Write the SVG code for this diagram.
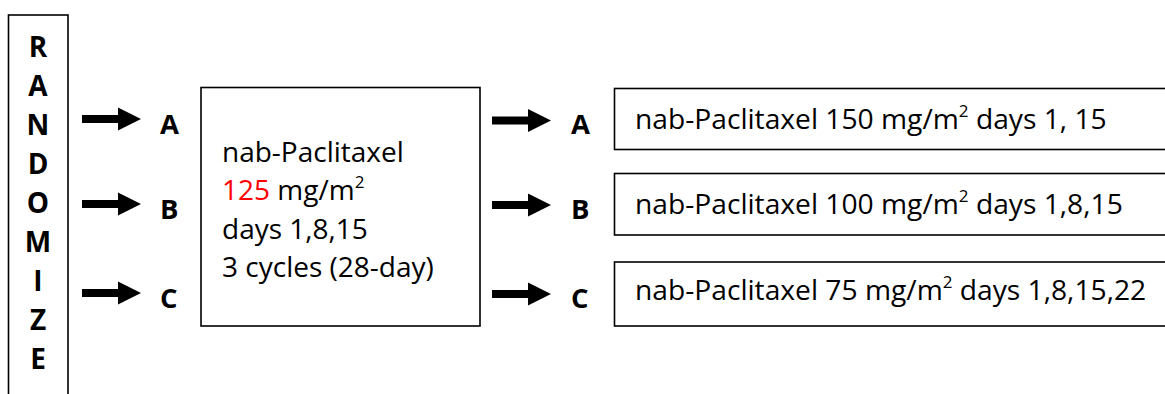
<svg xmlns="http://www.w3.org/2000/svg" width="1165" height="394" viewBox="0 0 1165 394">
  <defs>
    <style>
      .box { fill: #ffffff; stroke: #000000; stroke-width: 1.6; }
      .txt { font-family: "Open Sans", "Liberation Sans", sans-serif; font-size: 28px; fill: #000000; }
      .arm { font-family: "Open Sans", "Liberation Sans", sans-serif; font-size: 28.2px; fill: #000000; }
      .lbl { font-family: "Open Sans", "Liberation Sans", sans-serif; font-size: 27.5px; font-weight: bold; fill: #000000; }
      .vert { font-family: "Open Sans", "Liberation Sans", sans-serif; font-size: 28px; font-weight: bold; fill: #000000; text-anchor: middle; }
      .red { fill: #ff0000; }
      .sup { font-size: 17px; }
      .arrow { fill: #000000; }
    </style>
    <!-- block arrow: shaft then triangular head, tip at (0,0) -->
    <path id="blockArrow" class="arrow" d="M -59 -4 L -23 -4 L -23 -11.5 L 0 0 L -23 11.5 L -23 4 L -59 4 Z"/>
  </defs>

  <rect width="1165" height="394" fill="#ffffff"/>

  <!-- vertical RANDOMIZE column -->
  <g id="randomize">
    <rect class="box" x="8.5" y="15" width="59.5" height="400"/>
    <text class="vert" x="38" y="57">R</text>
    <text class="vert" x="38" y="96">A</text>
    <text class="vert" x="38" y="135">N</text>
    <text class="vert" x="38" y="174">D</text>
    <text class="vert" x="38" y="213">O</text>
    <text class="vert" x="38" y="252">M</text>
    <text class="vert" x="38" y="291">I</text>
    <text class="vert" x="38" y="330">Z</text>
    <text class="vert" x="38" y="369">E</text>
  </g>

  <!-- arm labels entering the induction phase -->
  <g id="arms-in">
    <text class="lbl" x="160" y="134">A</text>
    <text class="lbl" x="160" y="219">B</text>
    <text class="lbl" x="160" y="308">C</text>
  </g>

  <!-- induction box -->
  <g id="induction">
    <rect class="box" x="201" y="87.5" width="279" height="238.5"/>
    <text class="txt" x="222" y="162">nab-Paclitaxel</text>
    <text class="txt" x="222" y="200"><tspan class="red">125</tspan> mg/m<tspan class="sup" dy="-12">2</tspan></text>
    <text class="txt" x="222" y="239">days 1,8,15</text>
    <text class="txt" x="222" y="277">3 cycles (28-day)</text>
  </g>

  <!-- arm labels for the maintenance phase -->
  <g id="arms-out">
    <text class="lbl" x="571" y="134">A</text>
    <text class="lbl" x="571" y="219">B</text>
    <text class="lbl" x="571" y="308">C</text>
  </g>

  <!-- maintenance regimens -->
  <g id="arm-a">
    <rect class="box" x="614.5" y="88.5" width="560" height="61"/>
    <text class="arm" x="635" y="129">nab-Paclitaxel 150 mg/m<tspan class="sup" dy="-12">2</tspan><tspan dy="12"> days 1, 15</tspan></text>
  </g>
  <g id="arm-b">
    <rect class="box" x="614.5" y="173.5" width="560" height="61.5"/>
    <text class="arm" x="635" y="214">nab-Paclitaxel 100 mg/m<tspan class="sup" dy="-12">2</tspan><tspan dy="12"> days 1,8,15</tspan></text>
  </g>
  <g id="arm-c">
    <rect class="box" x="614.5" y="262" width="560" height="64"/>
    <text class="arm" x="635" y="300">nab-Paclitaxel 75 mg/m<tspan class="sup" dy="-12">2</tspan><tspan dy="12"> days 1,8,15,22</tspan></text>
  </g>

  <!-- connectors -->
  <g id="connectors">
    <use href="#blockArrow" x="141" y="119"/>
    <use href="#blockArrow" x="141" y="204"/>
    <use href="#blockArrow" x="141" y="293"/>
    <use href="#blockArrow" x="551" y="120.5"/>
    <use href="#blockArrow" x="551" y="205"/>
    <use href="#blockArrow" x="551" y="294"/>
  </g>
</svg>
